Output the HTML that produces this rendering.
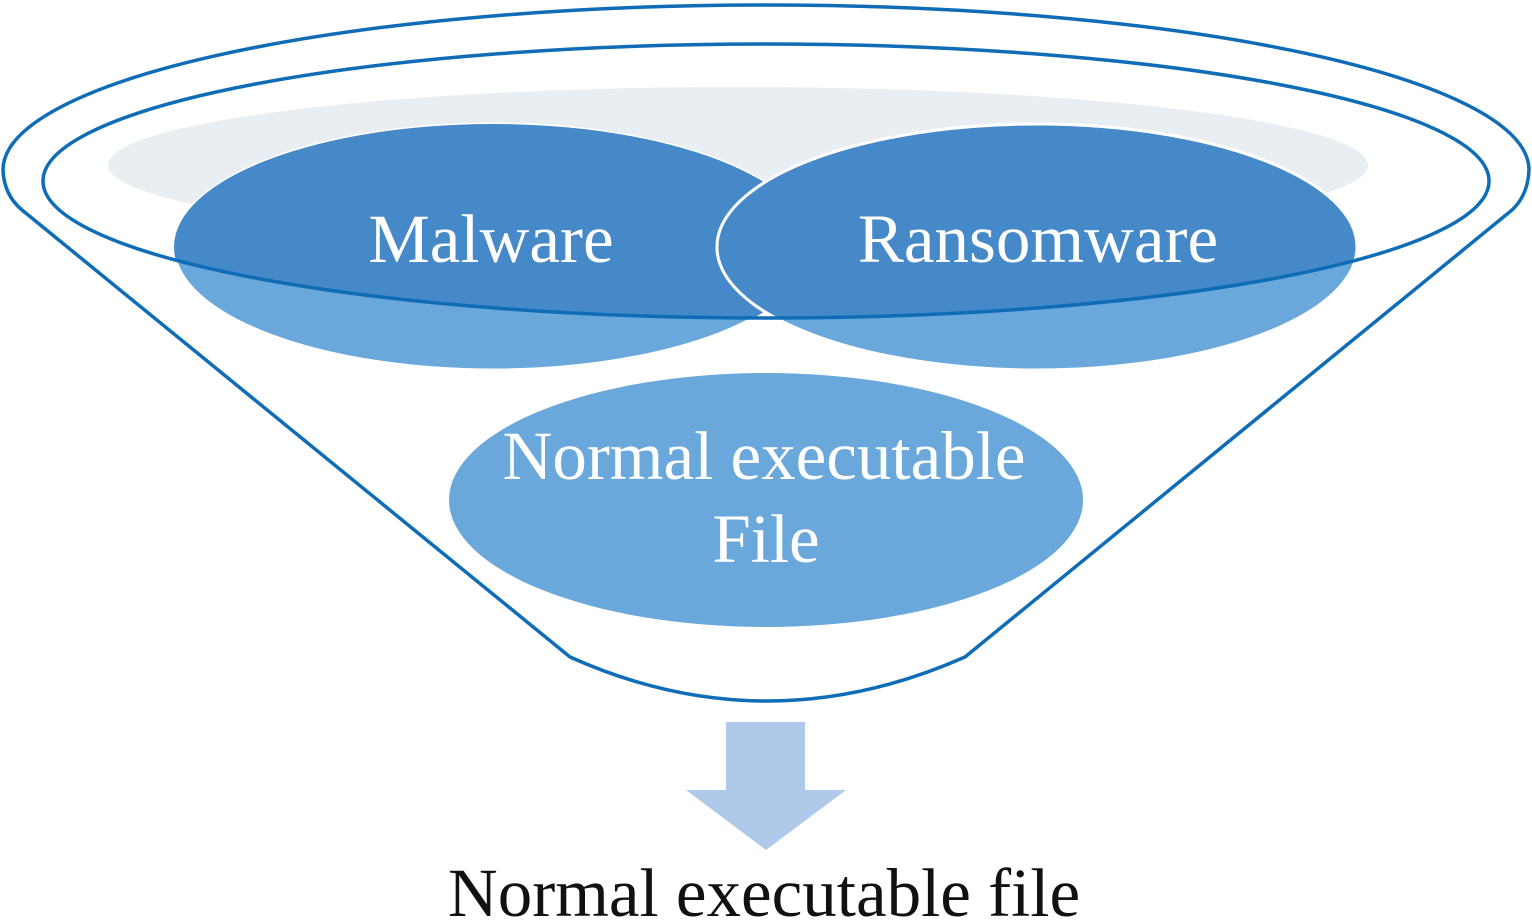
<!DOCTYPE html>
<html><head><style>body{margin:0;background:#fff}</style></head><body>
<svg width="1532" height="919" viewBox="0 0 1532 919" xmlns="http://www.w3.org/2000/svg">
<defs><clipPath id="inner"><ellipse cx="766" cy="181" rx="723" ry="137"/></clipPath></defs>
<path d="M22,210 Q4,195 3,170 A763,165 0 0 1 1529,170 Q1528,195 1512,210 L965,657 Q766,745 570,657 Z" fill="none" stroke="#0f6cb6" stroke-width="3.5" stroke-linejoin="round"/>
<ellipse cx="738" cy="165" rx="630" ry="78" fill="#e8eef1"/>
<ellipse cx="493" cy="247" rx="319" ry="123" fill="#6aa8dc" stroke="#fff" stroke-width="3"/>
<ellipse cx="493" cy="247" rx="319" ry="123" fill="#4589c8" clip-path="url(#inner)"/>
<ellipse cx="1037" cy="247" rx="320" ry="123" fill="#6aa8dc" stroke="#fff" stroke-width="3"/>
<ellipse cx="1037" cy="247" rx="320" ry="123" fill="#4589c8" stroke="#fff" stroke-width="3" clip-path="url(#inner)"/>
<ellipse cx="766" cy="181" rx="723" ry="137" fill="none" stroke="#0f6cb6" stroke-width="3.5"/>
<ellipse cx="766" cy="500" rx="317" ry="127" fill="#6aa8dc"/>
<g font-family="Liberation Serif, serif" fill="#fff" font-size="69" text-anchor="middle">
<text x="491" y="262">Malware</text>
<text x="1038" y="262">Ransomware</text>
<text x="764" y="479">Normal executable</text>
<text x="766" y="562">File</text>
</g>
<rect x="726" y="722" width="79" height="69" fill="#aec9e9"/>
<polygon points="686,790 846,790 766,850" fill="#aec9e9"/>
<text x="764" y="916" font-family="Liberation Serif, serif" font-size="69" text-anchor="middle" fill="#111">Normal executable file</text>
</svg>
</body></html>
